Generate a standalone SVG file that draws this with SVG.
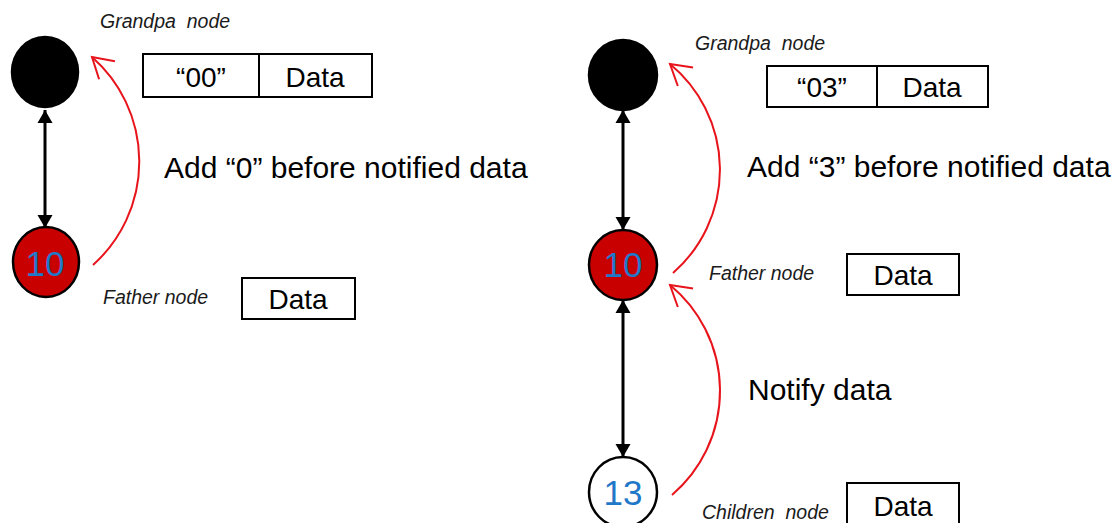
<svg xmlns="http://www.w3.org/2000/svg" width="1114" height="523" viewBox="0 0 1114 523">
<defs>
<style>
.lbl{font-family:"Liberation Sans",Arial,sans-serif;font-style:italic;font-size:19.5px;fill:#1a1a1a}
.big{font-family:"Liberation Sans",Arial,sans-serif;font-size:30px;fill:#000}
.box{fill:#fff;stroke:#000;stroke-width:2}
.bt{font-family:"Liberation Sans",Arial,sans-serif;font-size:28px;fill:#000;text-anchor:middle}
.num{font-family:"Liberation Sans",Arial,sans-serif;font-size:35px;fill:#1f78c8;text-anchor:middle}
.link{stroke:#000;stroke-width:3;fill:none;marker-start:url(#tri);marker-end:url(#tri)}
.notify{stroke:#e8141c;stroke-width:2;fill:none;marker-end:url(#open)}
</style>
<marker id="tri" markerUnits="userSpaceOnUse" viewBox="-14 -8 15 16" refX="0" refY="0" markerWidth="15" markerHeight="16" orient="auto-start-reverse">
<path d="M0,0 L-13,-7.5 L-13,7.5 Z" fill="#000"/>
</marker>
<marker id="open" markerUnits="userSpaceOnUse" viewBox="-24 -15 26 30" refX="0" refY="0" markerWidth="26" markerHeight="30" orient="auto" overflow="visible">
<path d="M-20,-12 L0,0 L-20,12" fill="none" stroke="#e8141c" stroke-width="2"/>
</marker>
</defs>
<rect width="1114" height="523" fill="#fff"/>

<g id="connectors">
<line class="link" x1="45" y1="110" x2="45" y2="228"/>
<line class="link" x1="623" y1="110" x2="623" y2="230"/>
<line class="link" x1="623" y1="300" x2="623" y2="457"/>
<path class="notify" d="M93,265 A139,139 0 0 0 92,57"/>
<path class="notify" d="M673,273 A137,137 0 0 0 670,64"/>
<path class="notify" d="M672,495 A137,137 0 0 0 670,285"/>
</g>

<g id="left-grandpa">
<ellipse cx="45" cy="72" rx="33" ry="35" fill="#000" stroke="#000" stroke-width="2.5"/>
<text class="lbl" x="100" y="28" xml:space="preserve">Grandpa  node</text>
</g>
<g id="left-grandpa-data">
<rect class="box" x="143" y="54" width="229" height="43"/>
<line x1="259" y1="54" x2="259" y2="97" stroke="#000" stroke-width="2"/>
<text class="bt" x="201" y="87">“00”</text>
<text class="bt" x="315" y="87">Data</text>
</g>
<g id="left-note">
<text class="big" x="164" y="178">Add “0” before notified data</text>
</g>
<g id="left-father">
<ellipse cx="46" cy="262" rx="33" ry="35" fill="#c80000" stroke="#000" stroke-width="2.5"/>
<text class="num" x="45" y="276">10</text>
<text class="lbl" x="103" y="304">Father node</text>
</g>
<g id="left-father-data">
<rect class="box" x="242" y="278" width="113" height="41"/>
<text class="bt" x="298" y="309">Data</text>
</g>

<g id="right-grandpa">
<ellipse cx="623" cy="75" rx="34" ry="35" fill="#000" stroke="#000" stroke-width="2.5"/>
<text class="lbl" x="695" y="50" xml:space="preserve">Grandpa  node</text>
</g>
<g id="right-grandpa-data">
<rect class="box" x="767" y="66" width="221" height="41"/>
<line x1="877" y1="66" x2="877" y2="107" stroke="#000" stroke-width="2"/>
<text class="bt" x="822" y="97">“03”</text>
<text class="bt" x="932" y="97">Data</text>
</g>
<g id="right-note">
<text class="big" x="747" y="177">Add “3” before notified data</text>
</g>
<g id="right-father">
<ellipse cx="623" cy="265" rx="34" ry="35" fill="#c80000" stroke="#000" stroke-width="2.5"/>
<text class="num" x="623" y="277">10</text>
<text class="lbl" x="709" y="280">Father node</text>
</g>
<g id="right-father-data">
<rect class="box" x="847" y="254" width="112" height="41"/>
<text class="bt" x="903" y="285">Data</text>
</g>
<g id="notify-note">
<text class="big" x="748" y="400">Notify data</text>
</g>
<g id="right-children">
<ellipse cx="623" cy="492" rx="34" ry="35" fill="#fff" stroke="#000" stroke-width="2.5"/>
<text class="num" x="623" y="505">13</text>
<text class="lbl" x="702" y="519" xml:space="preserve">Children  node</text>
</g>
<g id="right-children-data">
<rect class="box" x="847" y="483" width="112" height="50"/>
<text class="bt" x="903" y="516">Data</text>
</g>
</svg>
